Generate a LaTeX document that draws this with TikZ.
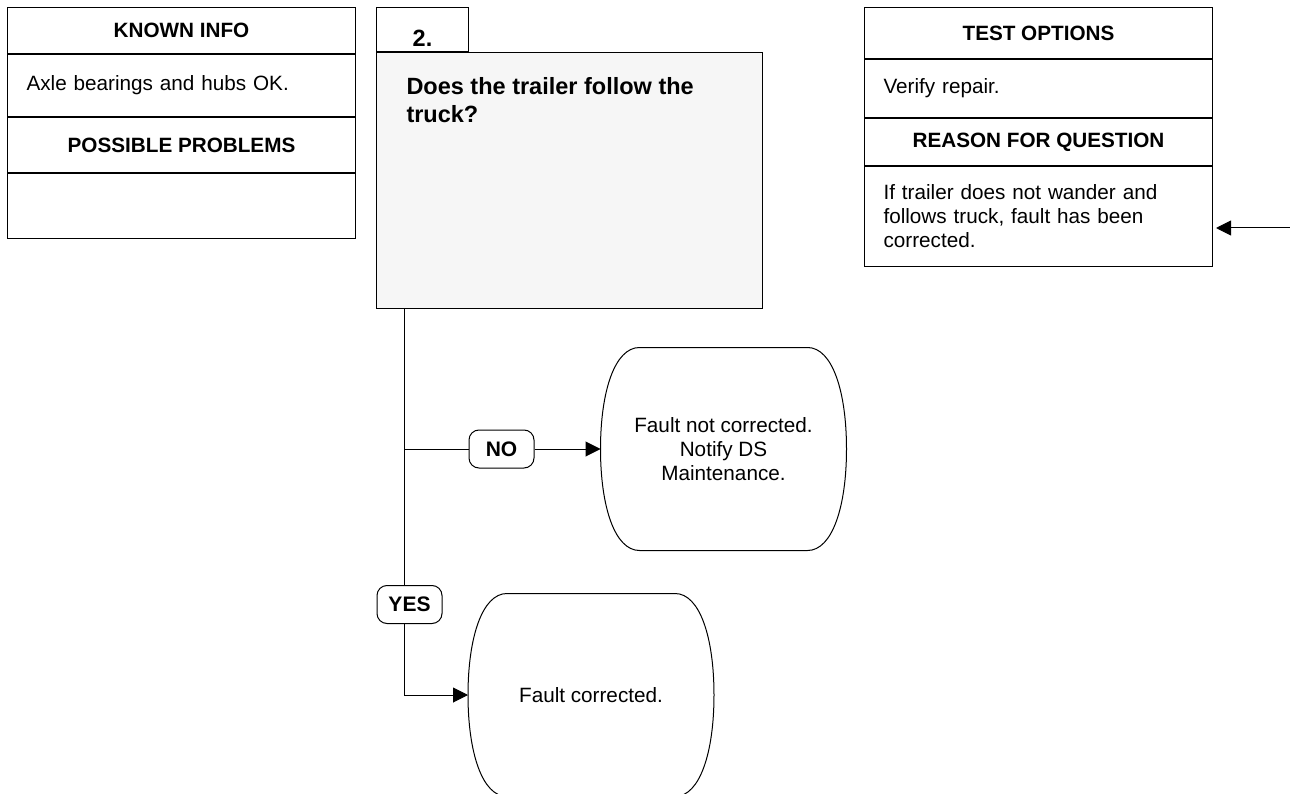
\documentclass[tikz,border=0pt]{standalone}
\usepackage{fontspec}
\setmainfont{Liberation Sans}
\usetikzlibrary{positioning,arrows.meta,calc}
\definecolor{qfill}{RGB}{246,246,246}

\begin{document}
\begin{tikzpicture}[
    x=1pt, y=1pt,
    font=\fontsize{20.7}{24}\selectfont,
    line width=1pt,
    head/.style={draw, minimum width=348pt, inner sep=0pt, font=\fontsize{20.7}{24}\selectfont\bfseries},
    cell/.style={draw, text width=310pt, inner xsep=19pt, inner ysep=0pt, align=left},
    tab/.style={draw, fill=white, minimum width=92pt, minimum height=44pt, inner sep=0pt, font=\fontsize{23.5}{28}\selectfont\bfseries},
    qbox/.style={draw, fill=qfill, minimum width=386pt, minimum height=256pt, inner sep=0pt},
    qtext/.style={inner sep=0pt, align=left, font=\fontsize{23.5}{28}\selectfont\bfseries},
    tag/.style={draw, fill=white, rounded corners=10pt, minimum width=65pt, minimum height=38pt, inner sep=0pt, font=\fontsize{21}{24}\selectfont\bfseries},
    endbox/.style={minimum width=245pt, minimum height=202pt, inner sep=0pt, align=center},
    arr/.style={-{Triangle[length=15pt, width=15pt]}}
  ]
  \useasboundingbox (0,0) rectangle (1290,-794);

  % left panel
  \node[head, minimum height=46pt, anchor=north west] (known) at (7,-7) {KNOWN INFO};
  \node[cell, minimum height=62pt, below=0pt of known] (knowntxt) {Axle bearings and hubs OK.};
  \node[head, minimum height=55pt, below=0pt of knowntxt] (probs) {POSSIBLE PROBLEMS};
  \node[cell, minimum height=65pt, below=0pt of probs] (probstxt) {};

  % right panel
  \node[head, minimum height=51pt, anchor=north west] (tests) at (864,-7) {TEST OPTIONS};
  \node[cell, minimum height=58pt, below=0pt of tests] (teststxt) {Verify repair.};
  \node[head, minimum height=47pt, below=0pt of teststxt] (reason) {REASON FOR QUESTION};
  \node[cell, minimum height=100pt, below=0pt of reason] (reasontxt) {If trailer does not wander and\\follows truck, fault has been\\corrected.};

  % question
  \node[tab, anchor=north west] (step2) at (376,-7) {\raisebox{-17pt}[0pt][0pt]{2.}};
  \node[qbox, anchor=north west] (question) at (step2.south west) {};
  \node[qtext, anchor=north west] (qtext) at ([xshift=30pt, yshift=-25pt]question.north west) {Does the trailer follow the\\truck?};

  % outcomes
  \node[endbox] (notfixed) at (723.5,-449) {Fault not corrected.\\Notify DS\\Maintenance.};
  \node[endbox] (fixed) at (591,-695) {Fault corrected.};
  \foreach \n in {notfixed,fixed}
    \draw ([xshift=39pt]\n.north west) -- ([xshift=-39pt]\n.north east)
      .. controls +(25pt,0pt) and +(0pt,57pt) .. (\n.east)
      .. controls +(0pt,-57pt) and +(25pt,0pt) .. ([xshift=-39pt]\n.south east)
      -- ([xshift=39pt]\n.south west)
      .. controls +(-25pt,0pt) and +(0pt,-57pt) .. (\n.west)
      .. controls +(0pt,57pt) and +(-25pt,0pt) .. cycle;

  % branches
  \coordinate (trunk) at ([xshift=28pt]question.south west);
  \node[tag] (no) at (501.5,-449) {NO};
  \node[tag] (yes) at ([xshift=5.5pt, yshift=-295.5pt]trunk) {YES};

  \draw (trunk) -- (trunk |- yes.north);
  \draw (trunk |- no.west) -- (no.west);
  \draw[arr] (no.east) -- (notfixed.west);
  \draw[arr] (trunk |- yes.south) |- (fixed.west);

  \coordinate (feed) at (1290,-228);
  \draw[arr, shorten >=3pt] (feed) -- (feed -| reasontxt.east);
\end{tikzpicture}
\end{document}
